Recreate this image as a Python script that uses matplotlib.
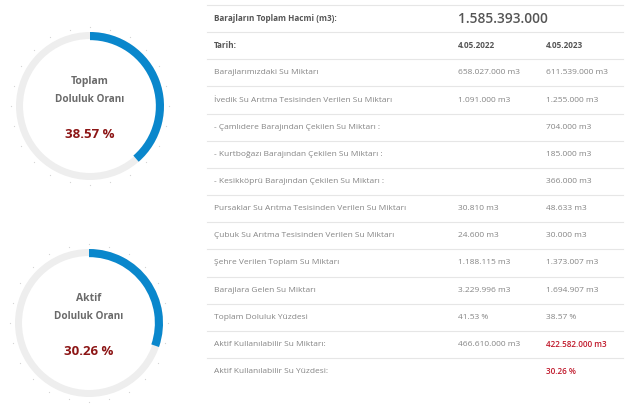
import matplotlib
matplotlib.use("Agg")
import matplotlib.pyplot as plt
import numpy as np

plt.rcParams["font.family"] = ["Open Sans", "DejaVu Sans"]

# gauges
gauge_titles = ["Toplam", "Aktif"]
gauge_values = [38.57, 30.26]

# table
total_label = "Barajların Toplam Hacmi (m3):"
total_value = "1.585.393.000"
date_label = "Tarih:"
dates = ["4.05.2022", "4.05.2023"]
row_labels = [
    "Barajlarımızdaki Su Miktarı",
    "İvedik Su Arıtma Tesisinden Verilen Su Miktarı",
    "- Çamlıdere Barajından Çekilen Su Miktarı :",
    "- Kurtboğazı Barajından Çekilen Su Miktarı :",
    "- Kesikköprü Barajından Çekilen Su Miktarı :",
    "Pursaklar Su Arıtma Tesisinden Verilen Su Miktarı",
    "Çubuk Su Arıtma Tesisinden Verilen Su Miktarı",
    "Şehre Verilen Toplam Su Miktarı",
    "Barajlara Gelen Su Miktarı",
    "Toplam Doluluk Yüzdesi",
    "Aktif Kullanılabilir Su Miktarı:",
    "Aktif Kullanılabilir Su Yüzdesi:",
]
values_2022 = ["658.027.000 m3", "1.091.000 m3", "", "", "",
               "30.810 m3", "24.600 m3", "1.188.115 m3", "3.229.996 m3",
               "41.53 %", "466.610.000 m3", ""]
values_2023 = ["611.539.000 m3", "1.255.000 m3", "704.000 m3", "185.000 m3",
               "366.000 m3", "48.633 m3", "30.000 m3", "1.373.007 m3",
               "1.694.907 m3", "38.57 %", "422.582.000 m3", "30.26 %"]
highlight_2023 = [False] * 10 + [True, True]

BLUE = "#0a87cc"
TRACK = "#eeeeee"
DARKRED = "#8c1515"
RED = "#c0182a"
GRAY = "#858585"
HEAD = "#555555"
LINE = "#e6e6e6"

fig = plt.figure(figsize=(6.4, 4.04), dpi=100)
ax = fig.add_axes([0, 0, 1, 1])
ax.set_xlim(0, 640)
ax.set_ylim(404, 0)
ax.axis("off")

# table
x0, x1 = 207, 623
col_x = [214, 458, 546]
y_top, row_h = 5, 27.15
n_rows = 2 + len(row_labels)
for i in range(n_rows):
    ax.plot([x0, x1], [y_top + i * row_h] * 2, color=LINE, lw=0.8)


def row_y(i):
    return y_top + (i + 0.5) * row_h


ax.text(col_x[0], row_y(0), total_label, fontsize=5.9, fontweight="bold",
        color=HEAD, va="center")
ax.text(col_x[1], row_y(0), total_value, fontsize=9.9, fontweight="semibold",
        color=HEAD, va="center")
ax.text(col_x[0], row_y(1), date_label, fontsize=5.9, fontweight="bold",
        color=HEAD, va="center")
for j, d in enumerate(dates):
    ax.text(col_x[1 + j], row_y(1), d, fontsize=5.9, fontweight="bold",
            color=HEAD, va="center")
for k, lab in enumerate(row_labels):
    y = row_y(2 + k)
    ax.text(col_x[0], y, lab, fontsize=6.0, color=GRAY, va="center")
    ax.text(col_x[1], y, values_2022[k], fontsize=6.0, color=GRAY,
            va="center")
    if highlight_2023[k]:
        ax.text(col_x[2], y, values_2023[k], fontsize=5.9, color=RED,
                va="center", fontweight="semibold")
    else:
        ax.text(col_x[2], y, values_2023[k], fontsize=6.0, color=GRAY,
                va="center")

# gauges
centers = [(90, 106), (89, 323)]
R = 74
half = 1.2
for (cx, cy), title, val in zip(centers, gauge_titles, gauge_values):
    size = 2 * half * R
    gax = fig.add_axes([(cx - size / 2) / 640, 1 - (cy + size / 2) / 404,
                        size / 640, size / 404])
    gax.axis("off")
    gax.pie([100], radius=1, colors=[TRACK],
            wedgeprops=dict(width=0.095, edgecolor="none"))
    gax.pie([val, 100 - val], radius=1, startangle=90, counterclock=False,
            colors=[BLUE, "none"], wedgeprops=dict(width=0.11, edgecolor="none"))
    gax.set_xlim(-half, half)
    gax.set_ylim(-half, half)
    gax.set_aspect("equal")
    ang = np.deg2rad(np.arange(0, 360, 15))
    gax.scatter(1.07 * np.sin(ang), 1.07 * np.cos(ang), s=0.8, color="#d4d4d4",
                lw=0)
    gax.text(0, 0.33, title, ha="center", va="center", fontsize=7.5,
             fontweight="bold", color="#6a6a6a")
    gax.text(0, 0.09, "Doluluk Oranı", ha="center", va="center", fontsize=7.2,
             fontweight="bold", color="#6a6a6a")
    gax.text(0, -0.38, f"{val:.2f} %", ha="center", va="center", fontsize=9.5,
             fontweight="bold", color=DARKRED)

fig.savefig("out.png", dpi=100)
